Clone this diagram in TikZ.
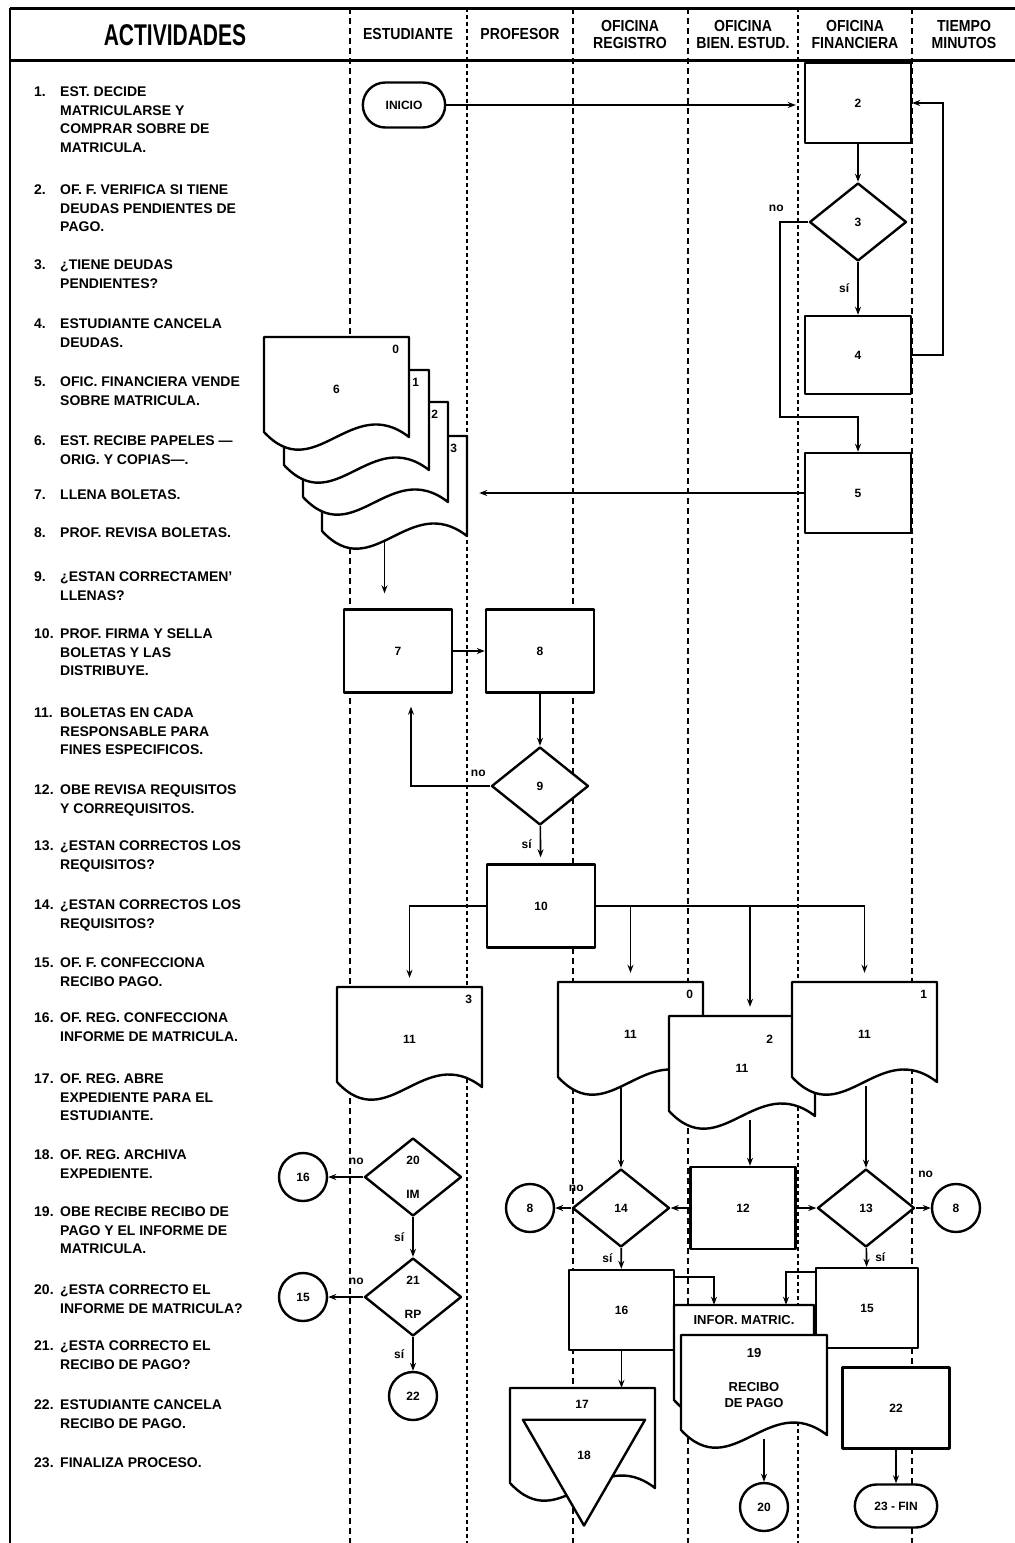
\documentclass[tikz,border=0pt]{standalone}
\usepackage{fontspec}
\setmainfont{Liberation Sans}
\newfontfamily\hdfont{Liberation Sans}[FakeStretch=0.88]
\newfontfamily\bigfont{Liberation Sans}[FakeStretch=0.7]
\usetikzlibrary{shapes.geometric,shapes.misc,arrows.meta,positioning}

\newcommand{\docshape}[5]{%
  \filldraw[shp,fill=white] (#2,#3) -- (#2+#4,#3) -- (#2+#4,#3+100)
    .. controls (#2+0.6*#4,#3+55) and (#2+0.35*#4,#3+150) .. (#2,#3+95) -- cycle;
  \node[docbox,minimum width=#4] (#1) at (#2+0.5*#4,#3+52) {#5};
}

\begin{document}
\begin{tikzpicture}[x=1pt,y=-1pt,
  font=\fontsize{12}{14}\selectfont\bfseries,
  shp/.style={line width=2.4pt,line join=round},
  box/.style={draw,shp,fill=white,minimum width=107,minimum height=81,inner sep=0},
  decision/.style={diamond,draw,shp,fill=white,minimum width=97,minimum height=78,inner sep=0,align=center},
  conn/.style={circle,draw,shp,fill=white,minimum size=48,inner sep=0},
  term/.style={rounded rectangle,draw,shp,fill=white,minimum width=89,minimum height=45},
  docbox/.style={minimum height=104,inner sep=0},
  lbl/.style={inner sep=2pt},
  arr/.style={line width=1.6pt,-{Stealth[length=8pt,width=6pt]}},
  lanethin/.style={line width=1.3pt,dash pattern=on 6pt off 4pt},
  lanethick/.style={line width=2.4pt,dash pattern=on 4pt off 3pt},
  acttext/.style={anchor=north west,inner sep=0,align=left,font=\fontsize{14}{18.5}\selectfont\bfseries},
  colhead/.style={align=center,font=\hdfont\bfseries\fontsize{16}{17}\selectfont}]
\useasboundingbox (0,0) rectangle (1015,1543);
\fill[white] (0,0) rectangle (1015,1543);

% frame and lanes
\draw[line width=3pt] (10,8) -- (1015,8);
\draw[line width=3pt] (10,60) -- (1015,60);
\draw[line width=2.5pt] (10,8) -- (10,1543);
\foreach \lx in {350,573,688,912}
  \draw[lanethin] (\lx,8) -- (\lx,1543);
\foreach \lx in {467,798}
  \draw[lanethick] (\lx,8) -- (\lx,1543);

% headers
\node[font=\bigfont\bfseries\fontsize{30}{30}\selectfont] (hact) at (175,35) {ACTIVIDADES};
\node[colhead] (hest) at (408,34) {ESTUDIANTE};
\node[colhead] (hprof) at (520,34) {PROFESOR};
\node[colhead] (hreg) at (630,34) {OFICINA\\REGISTRO};
\node[colhead] (hbien) at (743,34) {OFICINA\\BIEN. ESTUD.};
\node[colhead] (hfin) at (855,34) {OFICINA\\FINANCIERA};
\node[colhead] (htime) at (964,34) {TIEMPO\\MINUTOS};

% activities
\foreach \posy/\numa/\texta in {
  92/1/{EST. DECIDE\\MATRICULARSE Y\\COMPRAR SOBRE DE\\MATRICULA.},
  190/2/{OF. F. VERIFICA SI TIENE\\DEUDAS PENDIENTES DE\\PAGO.},
  265/3/{¿TIENE DEUDAS\\PENDIENTES?},
  324/4/{ESTUDIANTE CANCELA\\DEUDAS.},
  382/5/{OFIC. FINANCIERA VENDE\\SOBRE MATRICULA.},
  441/6/{EST. RECIBE PAPELES —\\ORIG. Y COPIAS—.},
  495/7/{LLENA BOLETAS.},
  533/8/{PROF. REVISA BOLETAS.},
  577/9/{¿ESTAN CORRECTAMEN'\\LLENAS?},
  634/10/{PROF. FIRMA Y SELLA\\BOLETAS Y LAS\\DISTRIBUYE.},
  713/11/{BOLETAS EN CADA\\RESPONSABLE PARA\\FINES ESPECIFICOS.},
  790/12/{OBE REVISA REQUISITOS\\Y CORREQUISITOS.},
  846/13/{¿ESTAN CORRECTOS LOS\\REQUISITOS?},
  905/14/{¿ESTAN CORRECTOS LOS\\REQUISITOS?},
  963/15/{OF. F. CONFECCIONA\\RECIBO PAGO.},
  1018/16/{OF. REG. CONFECCIONA\\INFORME DE MATRICULA.},
  1079/17/{OF. REG. ABRE\\EXPEDIENTE PARA EL\\ESTUDIANTE.},
  1155/18/{OF. REG. ARCHIVA\\EXPEDIENTE.},
  1212/19/{OBE RECIBE RECIBO DE\\PAGO Y EL INFORME DE\\MATRICULA.},
  1290/20/{¿ESTA CORRECTO EL\\INFORME DE MATRICULA?},
  1346/21/{¿ESTA CORRECTO EL\\RECIBO DE PAGO?},
  1405/22/{ESTUDIANTE CANCELA\\RECIBO DE PAGO.},
  1463/23/{FINALIZA PROCESO.}}{
  \node[acttext] (num\numa) at (34,\posy-5) {\numa.};
  \node[acttext] (act\numa) at (60,\posy-5) {\texta};
}

% shapes
\node[term] (ini) at (404,105) {INICIO};
\node[box,minimum width=106,minimum height=80] (b2) at (858,103) {2};
\node[decision] (d3) at (858,222) {3};
\node[box,minimum width=106,minimum height=78] (b4) at (858,355) {4};
\node[box,minimum width=106,minimum height=80] (b5) at (858,493) {5};

\docshape{d6d}{322}{436}{145}{}
\node[lbl,below left=6pt and 8pt of d6d.north east] (n6d) {3};
\docshape{d6c}{303}{402}{145}{}
\node[lbl,below left=6pt and 8pt of d6c.north east] (n6c) {2};
\docshape{d6b}{284}{370}{145}{}
\node[lbl,below left=6pt and 8pt of d6b.north east] (n6b) {1};
\docshape{d6a}{264}{337}{145}{6}
\node[lbl,below left=6pt and 8pt of d6a.north east] (n6a) {0};

\node[box,minimum width=108,minimum height=83] (b7) at (398,651) {7};
\node[box,minimum width=108,minimum height=83] (b8) at (540,651) {8};
\node[decision] (d9) at (540,786) {9};
\node[box,minimum width=108,minimum height=83] (b10) at (541,906) {10};

\docshape{d11a}{337}{987}{145}{11}
\node[lbl,below left=6pt and 8pt of d11a.north east] (n11a) {3};
\docshape{d11b}{558}{982}{145}{11}
\node[lbl,below left=6pt and 8pt of d11b.north east] (n11b) {0};
\docshape{d11c}{669}{1016}{146}{11}
\node[lbl,below left=17pt and 40pt of d11c.north east] (n11c) {2};
\docshape{d11d}{792}{982}{145}{11}
\node[lbl,below left=6pt and 8pt of d11d.north east] (n11d) {1};

\node[decision] (d14) at (621,1208) {14};
\node[box,minimum width=105,minimum height=82] (b12) at (743,1208) {12};
\node[decision] (d13) at (866,1208) {13};
\node[conn] (c8a) at (530,1208) {8};
\node[conn] (c8b) at (956,1208) {8};

\node[decision] (d20) at (413,1177) {20\\[20pt]IM};
\node[conn] (c16) at (303,1177) {16};
\node[decision] (d21) at (413,1297) {21\\[20pt]RP};
\node[conn] (c15) at (303,1297) {15};
\node[conn] (c22) at (413,1396) {22};

\node[box,minimum width=105,minimum height=80] (b16) at (621.5,1310) {16};
\node[box,minimum width=102,minimum height=80] (b15) at (867,1308) {15};

\docshape{d17}{510}{1388}{145}{}
\node[lbl] (t17) at (582,1404) {17};
\node[regular polygon,regular polygon sides=3,shape border rotate=180,draw,shp,fill=white,
  minimum size=141,inner sep=0] (a18) at (584,1455) {18};

\docshape{dinf}{674}{1305}{140}{}
\node[lbl,font=\fontsize{13}{15}\selectfont\bfseries] (tinf) at (744,1320) {INFOR. MATRIC.};
\docshape{d19}{681}{1335}{146}{}
\node[lbl,font=\fontsize{13}{15}\selectfont\bfseries] (t19) at (754,1353) {19};
\node[lbl,align=center,font=\fontsize{13}{16}\selectfont\bfseries] (trec) at (754,1395) {RECIBO\\DE PAGO};

\node[conn] (c20) at (764,1507) {20};
\node[box,minimum width=107,minimum height=81] (b22) at (896,1408) {22};
\node[term,minimum height=43] (fin) at (896,1506) {23 - FIN};

% connectors
\coordinate (nj) at (780,417);
\coordinate (s6) at ([xshift=-10pt]d6d.south);
\coordinate (s11c) at ([xshift=8pt]d11c.south);

\draw[arr,shorten >=8pt] (ini.east) -- (ini.east -| b2.west);
\draw[arr] (b2) -- (d3);
\draw[arr] (d3) -- node[lbl,midway,anchor=east,xshift=-6pt] (l3si) {sí} (b4);
\draw[arr] (d3.west) -- node[lbl,at start,anchor=south,xshift=-32pt,yshift=8pt] (l3no) {no} (d3.west -| nj) -- (nj) -| (b5.north);
\draw[arr] (b4.east) -- ++(31,0) |- (b2.east);
\draw[arr,shorten >=12pt] (b5.west) -- (b5.west -| d6d.east);
\draw[arr,shorten >=15pt] (s6) -- (s6 |- b7.north);
\draw[arr] (b7) -- (b8);
\draw[arr] (b8) -- (d9);
\draw[arr,shorten >=13pt] (d9.west) -| node[lbl,at start,anchor=south,xshift=-12pt,yshift=7pt] (l9no) {no} ([xshift=13pt]b7.south);
\draw[arr,shorten >=6pt] (d9) -- node[lbl,midway,anchor=east,xshift=-6pt] (l9si) {sí} (b10);

\draw[arr,shorten >=9pt] (b10.west) -| (d11a.north);
\draw[arr,shorten >=9pt] (b10.east) -| (d11d.north);
\draw[arr,shorten >=9pt] (d11b.north |- b10.east) -- (d11b.north);
\draw[arr,shorten >=9pt] (s11c |- b10.east) -- (s11c |- d11c.north);

\draw[arr] (d14.north |- d11b.south) -- (d14.north);
\draw[arr] (s11c) -- (s11c |- b12.north);
\draw[arr] (d13.north |- d11d.south) -- (d13.north);
\draw[arr] (b12) -- (d14);
\draw[arr] (b12) -- (d13);
\draw[arr] (d14) -- node[lbl,at start,anchor=south,xshift=5pt,yshift=14pt] (l14no) {no} (c8a);
\draw[arr] (d13) -- node[lbl,at start,anchor=south,xshift=10pt,yshift=28pt] (l13no) {no} (c8b);
\draw[arr] (d14) -- node[lbl,midway,anchor=east,xshift=-6pt] (l14si) {sí} (b16);
\draw[arr] (d13) -- node[lbl,midway,anchor=west,xshift=6pt] (l13si) {sí} (b15);

\draw[arr] (d20) -- node[lbl,at start,anchor=south,xshift=-7pt,yshift=10pt] (l20no) {no} (c16);
\draw[arr] (d20) -- node[lbl,midway,anchor=east,xshift=-6pt] (l20si) {sí} (d21);
\draw[arr] (d21) -- node[lbl,at start,anchor=south,xshift=-7pt,yshift=10pt] (l21no) {no} (c15);
\draw[arr] (d21) -- node[lbl,midway,anchor=east,xshift=-6pt] (l21si) {sí} (c22);

\draw[arr] (b16.south) -- (b16.south |- d17.north);
\draw[arr] ([yshift=-8pt]b16.north east) -| ([xshift=-30pt]dinf.north);
\draw[arr] ([yshift=-5pt]b15.north west) -| ([xshift=42pt]dinf.north);
\draw[arr] (c20.north |- d19.south) -- (c20.north);
\draw[arr] (b22) -- (fin);
\end{tikzpicture}
\end{document}
